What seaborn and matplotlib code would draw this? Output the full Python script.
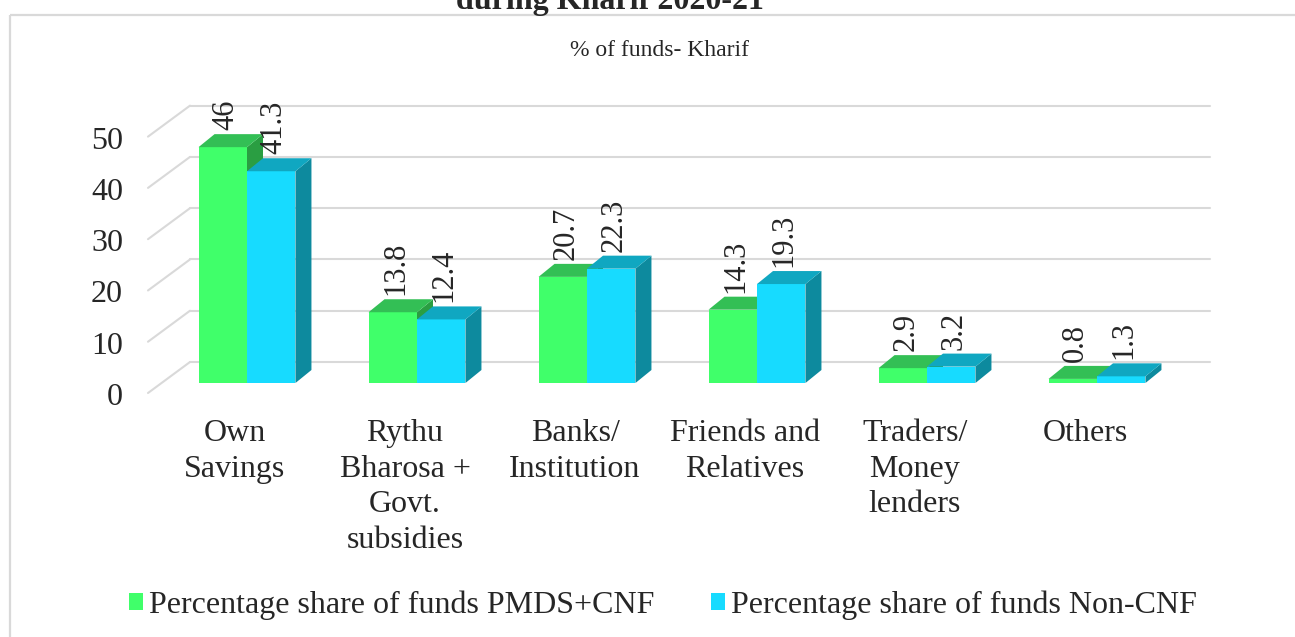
import numpy as np
import pandas as pd
import matplotlib
matplotlib.use('Agg')
import matplotlib.pyplot as plt
from matplotlib.patches import Polygon, Patch, Rectangle
import seaborn as sns

categories = ['Own\nSavings', 'Rythu\nBharosa +\nGovt.\nsubsidies', 'Banks/\nInstitution',
              'Friends and\nRelatives', 'Traders/\nMoney\nlenders', 'Others']
pmds_cnf = [46, 13.8, 20.7, 14.3, 2.9, 0.8]
non_cnf = [41.3, 12.4, 22.3, 19.3, 3.2, 1.3]
series = ['Percentage share of funds PMDS+CNF', 'Percentage share of funds Non-CNF']
yticks = [0, 10, 20, 30, 40, 50]

frontColors = ['#40FF6A', '#17DBFF']
topColors = ['#33BF55', '#10A7C1']
sideColors = ['#2A9E42', '#0D8A9E']
gridColor = '#D9D9D9'
textSize = 23

df = pd.DataFrame({
    'category': categories * 2,
    'value': pmds_cnf + non_cnf,
    'series': [series[0]] * len(categories) + [series[1]] * len(categories),
})

sns.set_style('white')
plt.rcParams['font.family'] = ['Liberation Serif', 'DejaVu Serif']

fig = plt.figure(figsize=(12.95, 6.37), dpi=100)
W, H = 1295, 637
# axes = plane of the bar fronts (pixels: x 162..1182, y 0 at 383)
ax = fig.add_axes([162 / W, (H - 383) / H, 1020 / W, 282 / H])
sns.barplot(data=df, x='category', y='value', hue='series', palette=frontColors,
            width=0.57, ax=ax, legend=False, linewidth=0, saturation=1)
ax.set_xlim(-0.5, 5.5)
ax.set_ylim(0, 55)
ax.axis('off')

# pixel -> data scale
o = ax.transData.transform((0, 0))
sx = ax.transData.transform((1, 0))[0] - o[0]
sy = ax.transData.transform((0, 1))[1] - o[1]

# back wall grid + left diagonals
for v in yticks:
    ax.plot([-0.5 + 28 / sx, 5.5 + 28 / sx], [v + 21 / sy, v + 21 / sy], color=gridColor,
            lw=1.5, zorder=0.5, clip_on=False)
    ax.plot([-0.5 - 14 / sx, -0.5 + 28 / sx], [v - 10 / sy, v + 21 / sy], color=gridColor,
            lw=1.5, zorder=0.5, clip_on=False)
    ax.text(-0.5 - 39 / sx, v - 11 / sy, str(v), ha='right', va='center_baseline',
            fontsize=textSize)

# 3D faces of the bars
dx, dy = 16 / sx, 13 / sy
for k, cont in enumerate(ax.containers):
    for bar in cont.patches:
        bar.set_zorder(1 + 0.2 * k)
        x0 = bar.get_x()
        x1 = x0 + bar.get_width()
        h = bar.get_height()
        top = Polygon([(x0, h), (x1, h), (x1 + dx, h + dy), (x0 + dx, h + dy)],
                      closed=True, facecolor=topColors[k], edgecolor='none',
                      zorder=1.1 + 0.2 * k, clip_on=False)
        side = Polygon([(x1, 0), (x1, h), (x1 + dx, h + dy), (x1 + dx, dy)],
                       closed=True, facecolor=sideColors[k], edgecolor='none',
                       zorder=1.1 + 0.2 * k, clip_on=False)
        ax.add_patch(side)
        ax.add_patch(top)
        ax.text(x0 + bar.get_width() / 2 + 3 / sx, h + (13 + 4) / sy, f'{h:g}',
                rotation=90, ha='center', va='bottom', fontsize=22, zorder=3)

# category labels on the front edge
for i, c in enumerate(categories):
    ax.text(i - 12 / sx, -36 / sy, c, ha='center', va='top', fontsize=textSize,
            linespacing=1.3)

handles = [Patch(facecolor=frontColors[k], edgecolor='none') for k in range(2)]
fig.legend(handles, series, loc='center', bbox_to_anchor=(663 / W, 1 - 605 / H), ncol=2,
           frameon=False, fontsize=23, handlelength=0.44, handleheight=0.44,
           handletextpad=0.2, columnspacing=1.75)

fig.text(610 / W, 1 - 9 / H, 'during Kharif 2020-21', ha='center', va='baseline',
         fontsize=23, fontweight='bold')
fig.text(659 / W, 1 - 51 / H, '% of funds- Kharif', ha='center', va='center', fontsize=17)
fig.patches.append(Rectangle((10 / W, 1 - 15 / H), 1.1, -1.2, transform=fig.transFigure,
                             fill=False, edgecolor='#D9D9D9', lw=1.6, figure=fig))

fig.savefig('out.png', dpi=100)
